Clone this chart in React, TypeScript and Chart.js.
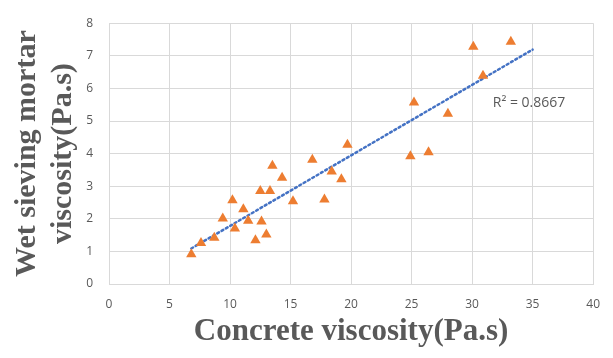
import React, { useEffect, useRef } from "react";
import { Chart, registerables } from "chart.js";

Chart.register(...registerables);

const concreteVisc = [6.8, 7.6, 8.7, 9.4, 10.2, 10.4, 11.1, 11.5, 12.1, 12.5, 12.6, 13.0, 13.3, 13.5, 14.3, 15.2, 16.8, 17.8, 18.4, 19.2, 19.7, 24.9, 25.2, 26.4, 28.0, 30.1, 30.9, 33.2];
const mortarVisc = [0.91, 1.26, 1.42, 2.01, 2.57, 1.70, 2.29, 1.94, 1.34, 2.85, 1.92, 1.52, 2.85, 3.63, 3.26, 2.54, 3.81, 2.59, 3.45, 3.21, 4.27, 3.92, 5.57, 4.04, 5.22, 7.28, 6.39, 7.43];
const trendX = [6.8, 35];
const trendY = [1.09, 7.19];
const r2Label = "R² = 0.8667";
const r2Pos = [34.7, 5.54];

const gray = "#595959";

export default function App() {
  const ref = useRef<HTMLCanvasElement>(null);
  useEffect(() => {
    document.body.style.margin = "0";
    const r2Plugin = {
      id: "r2",
      afterDatasetsDraw(chart: any) {
        const { ctx, scales } = chart;
        const x = scales.x.getPixelForValue(r2Pos[0]);
        const y = scales.y.getPixelForValue(r2Pos[1]);
        ctx.save();
        ctx.font = "14px 'Open Sans', sans-serif";
        ctx.fillStyle = gray;
        ctx.textAlign = "center";
        ctx.textBaseline = "middle";
        ctx.fillText(r2Label, x, y);
        ctx.restore();
      },
    };
    const chart = new Chart(ref.current!, {
      type: "scatter",
      data: {
        datasets: [
          {
            label: "data",
            data: concreteVisc.map((v, i) => ({ x: v, y: mortarVisc[i] })),
            pointStyle: "triangle",
            pointRadius: 6,
            backgroundColor: "#ed7d31",
            borderColor: "#ed7d31",
            borderWidth: 0,
            order: 1,
          },
          {
            label: "trend",
            type: "line",
            data: trendX.map((v, i) => ({ x: v, y: trendY[i] })),
            borderColor: "#4472c4",
            borderWidth: 2.5,
            borderDash: [2, 3],
            borderCapStyle: "round",
            pointRadius: 0,
            fill: false,
            order: 2,
          },
        ],
      },
      options: {
        animation: false,
        responsive: false,
        maintainAspectRatio: false,
        layout: { padding: { top: 14, right: 16, left: 0, bottom: 0 } },
        plugins: { legend: { display: false }, tooltip: { enabled: false } },
        scales: {
          x: {
            type: "linear",
            min: 0,
            max: 40,
            ticks: { stepSize: 5, color: gray, font: { family: "'Open Sans', sans-serif", size: 12 }, padding: 13 },
            grid: { color: "#d9d9d9", drawTicks: false, lineWidth: 1 },
            border: { color: "#d9d9d9" },
            title: {
              display: true,
              text: "Concrete viscosity(Pa.s)",
              color: gray,
              font: { family: "'Liberation Serif', serif", size: 31, weight: "bold", lineHeight: 1.2 },
              padding: { top: 0, bottom: 7 },
            },
            afterFit(scale: any) { scale.height = 74; },
          },
          y: {
            min: 0,
            max: 8,
            ticks: { stepSize: 1, color: gray, font: { family: "'Open Sans', sans-serif", size: 12 }, padding: 16 },
            grid: { color: "#d9d9d9", drawTicks: false, lineWidth: 1 },
            border: { color: "#d9d9d9" },
            title: {
              display: true,
              text: ["Wet sieving mortar", "viscosity(Pa.s)"],
              color: gray,
              font: { family: "'Liberation Serif', serif", size: 30, weight: "bold", lineHeight: 1.2 },
              padding: { top: 9, bottom: 0 },
            },
            afterFit(scale: any) { scale.width = 109; },
          },
        },
      },
      plugins: [r2Plugin],
    } as any);
    return () => chart.destroy();
  }, []);
  return (
    <div style={{ width: 613, height: 358 }}>
      <canvas ref={ref} width={613} height={358} style={{ display: "block" }} />
    </div>
  );
}
